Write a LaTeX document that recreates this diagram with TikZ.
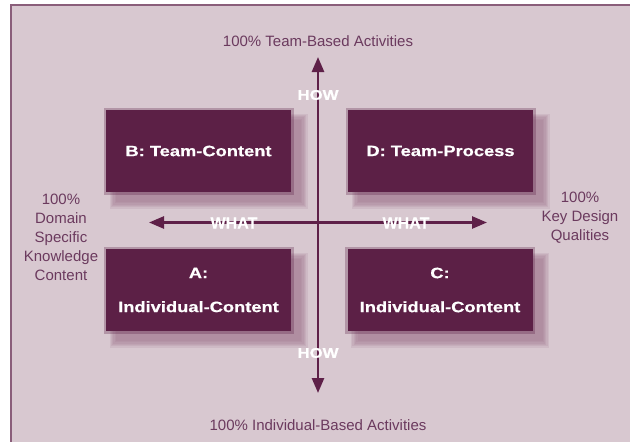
\documentclass[tikz,border=0pt]{standalone}
\usepackage{fontspec}
\setmainfont{Liberation Sans}
\usetikzlibrary{arrows.meta,calc}
\definecolor{bgm}{HTML}{D8C8D0}
\definecolor{framec}{HTML}{8A5E7A}
\definecolor{boxc}{HTML}{5C2046}
\definecolor{shadc}{HTML}{9A6E88}
\definecolor{labc}{HTML}{6B3A5E}
\definecolor{arrc}{HTML}{5E2048}
\newcommand\widetxt[1]{\scalebox{1.22}[1]{#1}}
\newcommand\widerb[1]{\scalebox{1.2}[1]{#1}}
\tikzset{
  quad/.style={minimum width=185pt, minimum height=82pt, inner sep=0pt, fill=boxc, text=white, align=center,
    font=\fontsize{15}{34}\selectfont\bfseries\addfontfeature{FakeBold=0.6}},
  axislab/.style={text=labc, font=\fontsize{15}{19}\selectfont, align=center, inner sep=0pt},
  howword/.style={text=white, font=\fontsize{14}{16}\selectfont\bfseries\addfontfeature{FakeBold=0.7}, inner sep=0pt},
  whatword/.style={text=white, font=\fontsize{16}{18}\selectfont\bfseries\addfontfeature{FakeBold=0.6}, inner sep=0pt},
  axis/.style={draw=arrc, line width=2.6pt, {Triangle[length=15pt,width=12pt]}-{Triangle[length=15pt,width=12pt]}},
}
\newcommand\shadowbox[1]{%
  \foreach \k in {0,...,5}{
    \fill[shadc, opacity=0.15] ($(#1)+(-92.5+10-\k*1.3,-41+10-\k*1.3)$) rectangle ($(#1)+(92.5+10+\k*1.3,41+10+\k*1.3)$);
  }
  \fill[boxc, opacity=0.3] ($(#1)+(-95,-43.5)$) rectangle ($(#1)+(95,43.5)$);
}
\begin{document}
\begin{tikzpicture}[x=1pt,y=-1pt]
\useasboundingbox (0,0) rectangle (630,442);
\fill[white] (0,0) rectangle (630,442);
\fill[bgm] (11,5) rectangle (630,442);
\draw[framec, line width=1.4pt] (11,442) -- (11,5) -- (630,5);
% box centres
\coordinate (pB) at (198.5,151);
\coordinate (pD) at (440.5,151);
\coordinate (pA) at (198.5,290);
\coordinate (pC) at (440,290);
\shadowbox{pB}
\shadowbox{pD}
\shadowbox{pA}
\shadowbox{pC}
\node[quad] (B) at (pB) {\widetxt{B: Team-Content}};
\node[quad] (D) at (pD) {\widetxt{D: Team-Process}};
\node[quad] (A) at (pA) {\widetxt{A:}\\\widetxt{Individual-Content}};
\node[quad] (C) at (pC) {\widetxt{C:}\\\widetxt{Individual-Content}};
% axes
\coordinate (top) at (318,57);
\coordinate (bot) at (318,393);
\coordinate (lft) at (149,222.5);
\coordinate (rgt) at (487,222.5);
\draw[axis] (bot) -- (top);
\draw[axis] (lft) -- (rgt);
\node[howword] (how1) at (318,95) {\widerb{HOW}};
\node[howword] (how2) at (318,353) {\widerb{HOW}};
\node[whatword] (what1) at (234,223) {WHAT};
\node[whatword] (what2) at (406,223) {WHAT};
% labels
\node[axislab] (ltop) at (318,41) {100\% Team-Based Activities};
\node[axislab] (lbot) at (318,425) {100\% Individual-Based Activities};
\node[axislab] (lleft) at (61,237) {100\%\\Domain\\Specific\\Knowledge\\Content};
\node[axislab] (lright) at (580,218) {100\%\\Key Design\\Qualities};
\end{tikzpicture}
\end{document}
